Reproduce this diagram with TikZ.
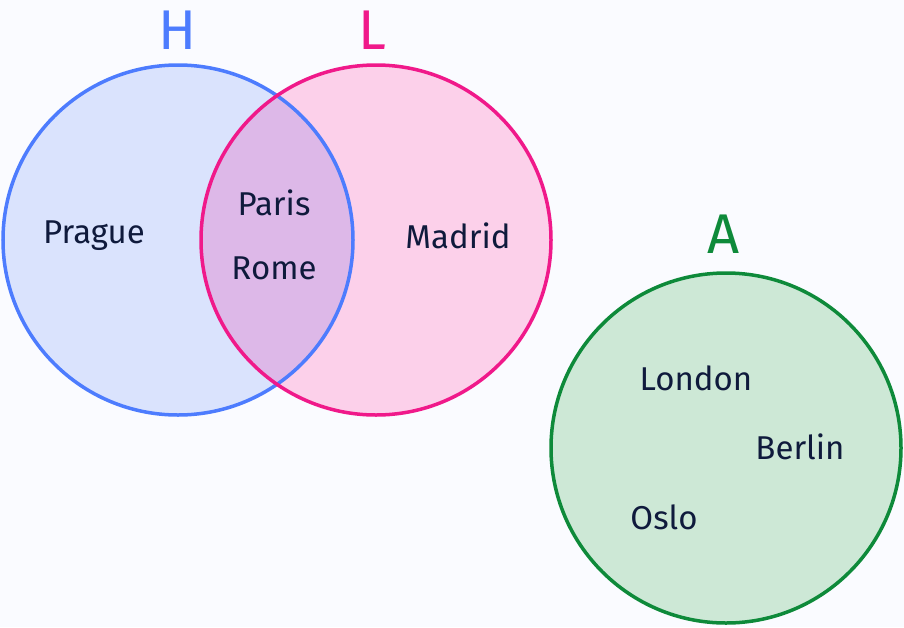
\documentclass[tikz,border=0pt]{standalone}
\usepackage{fontspec}
\setmainfont{Fira Sans}
\definecolor{bg}{HTML}{FAFBFF}
\definecolor{hs}{HTML}{4D7CFE}
\definecolor{hf}{HTML}{DAE3FD}
\definecolor{ls}{HTML}{F0198A}
\definecolor{lf}{HTML}{FCD0EA}
\definecolor{ov}{HTML}{DDB8E8}
\definecolor{as}{HTML}{0E8A3A}
\definecolor{af}{HTML}{CDE8D6}
\definecolor{tx}{HTML}{0F1A3C}
\begin{document}
\begin{tikzpicture}[x=1pt,y=-1pt,
  city/.style={text=tx,font=\fontsize{33}{36}\selectfont,inner sep=0pt},
  setlab/.style={font=\fontsize{56}{60}\selectfont,inner sep=0pt}]
\fill[bg] (0,0) rectangle (904,627);
\useasboundingbox (0,0) rectangle (904,627);
\fill[hf] (178,240) circle (175);
\fill[lf] (376,240) circle (175);
\begin{scope}
\clip (178,240) circle (175);
\fill[ov] (376,240) circle (175);
\end{scope}
\fill[af] (726,448) circle (175);
\draw[hs,line width=3.5pt] (178,240) circle (175);
\draw[ls,line width=3.5pt] (376,240) circle (175);
\draw[as,line width=3.5pt] (726,448) circle (175);
\node[setlab,text=hs] (h) at (178,30) {H};
\node[setlab,text=ls] (l) at (372,30) {L};
\node[setlab,text=as] (a) at (724,234) {A};
\node[city] (prague) at (94,236) {Prague};
\node[city] (paris) at (274,203) {Paris};
\node[city] (rome) at (274,268) {Rome};
\node[city] (madrid) at (458,236) {Madrid};
\node[city] (london) at (696,378) {London};
\node[city] (berlin) at (800,447) {Berlin};
\node[city] (oslo) at (664,517) {Oslo};
\end{tikzpicture}
\end{document}
